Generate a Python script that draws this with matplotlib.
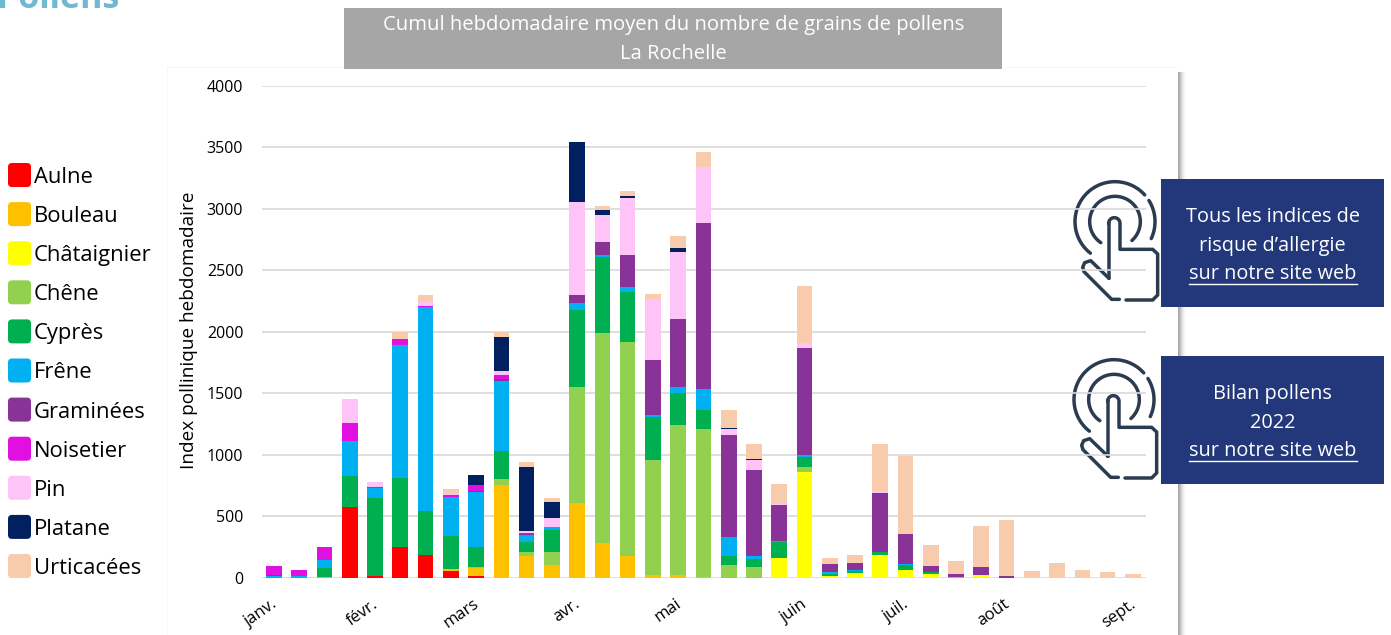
import numpy as np
import matplotlib
matplotlib.use("Agg")
import matplotlib.pyplot as plt
from matplotlib.patches import Rectangle, FancyBboxPatch
from matplotlib.transforms import ScaledTranslation

plt.rcParams['font.family'] = ['Open Sans', 'DejaVu Sans']

#%%
# weekly values per taxon, 35 weeks
aulne = [0, 0, 0, 575, 20, 250, 190, 60, 20, 3, 0, 0, 0, 0, 0, 0, 0, 0, 0, 0, 0, 0, 0, 0, 0, 0, 0, 0, 0, 0, 0, 0, 0, 0, 0]
bouleau = [0, 0, 0, 0, 0, 0, 0, 15, 65, 752, 175, 105, 610, 285, 175, 25, 25, 5, 0, 0, 0, 0, 0, 0, 0, 0, 0, 0, 0, 0, 0, 0, 0, 0, 0]
chataignier = [0, 0, 0, 0, 0, 0, 0, 0, 0, 0, 0, 0, 0, 0, 0, 0, 0, 0, 0, 0, 160, 860, 20, 40, 190, 65, 35, 0, 25, 0, 0, 0, 0, 0, 3]
chene = [0, 0, 10, 0, 0, 0, 0, 0, 5, 50, 40, 105, 945, 1705, 1745, 930, 1215, 1205, 105, 90, 0, 45, 0, 0, 0, 0, 0, 5, 0, 0, 0, 0, 0, 0, 0]
cypres = [0, 0, 70, 255, 630, 565, 355, 270, 165, 225, 75, 180, 620, 620, 405, 355, 260, 155, 70, 65, 130, 80, 10, 20, 25, 40, 10, 0, 0, 0, 0, 0, 0, 0, 0]
frene = [20, 15, 70, 285, 80, 1075, 1655, 315, 445, 570, 60, 25, 55, 15, 40, 10, 50, 170, 155, 25, 10, 10, 15, 5, 0, 10, 0, 0, 0, 0, 0, 0, 0, 0, 0]
graminees = [5, 0, 0, 0, 0, 0, 0, 0, 10, 20, 5, 0, 65, 105, 260, 450, 550, 1345, 830, 695, 295, 875, 65, 60, 475, 240, 50, 30, 65, 15, 0, 3, 0, 0, 0]
noisetier = [75, 50, 100, 145, 10, 50, 10, 15, 45, 30, 10, 0, 0, 0, 0, 0, 0, 0, 0, 0, 0, 0, 0, 0, 0, 0, 0, 0, 0, 0, 0, 0, 0, 0, 0]
pin = [0, 0, 0, 190, 40, 0, 30, 10, 0, 30, 15, 75, 760, 220, 460, 495, 550, 455, 50, 85, 10, 35, 0, 0, 15, 0, 0, 0, 0, 5, 0, 0, 0, 0, 0]
platane = [0, 0, 0, 0, 0, 0, 0, 0, 80, 280, 525, 130, 490, 35, 15, 0, 30, 0, 10, 10, 0, 0, 0, 0, 0, 0, 0, 0, 0, 0, 0, 0, 0, 0, 0]
urticacees = [0, 0, 0, 0, 0, 55, 60, 35, 0, 40, 35, 30, 0, 35, 40, 45, 100, 125, 145, 115, 155, 465, 50, 65, 380, 635, 170, 105, 335, 455, 55, 115, 65, 50, 32]

names = ['Aulne', 'Bouleau', 'Châtaignier', 'Chêne', 'Cyprès', 'Frêne', 'Graminées', 'Noisetier', 'Pin', 'Platane', 'Urticacées']
series = [aulne, bouleau, chataignier, chene, cypres, frene, graminees, noisetier, pin, platane, urticacees]
colors = ['#ff0000', '#ffc000', '#ffff00', '#92d050', '#00b050', '#00b0f0', '#893399', '#e010e0', '#ffc4f7', '#002060', '#f8cbad']

month_weeks = [0, 4, 8, 12, 16, 21, 25, 29, 34]
month_labels = ['janv.', 'févr.', 'mars', 'avr.', 'mai', 'juin', 'juil.', 'août', 'sept.']

W, H = 1391, 635
fig = plt.figure(figsize=(W / 100, H / 100), dpi=100)

#%%
# overlay in pixel coords for everything around the chart
deco = fig.add_axes([0, 0, 1, 1], zorder=0)
deco.set_xlim(0, W)
deco.set_ylim(H, 0)
deco.axis('off')

# panel shadow
for i, c in enumerate(['#a8a8a8', '#b4b4b4', '#c4c4c4', '#d4d4d4', '#e2e2e2', '#eeeeee', '#f6f6f6', '#fbfbfb']):
    deco.add_patch(Rectangle((1178 + i, 72), 1, H - 72, color=c, lw=0))
deco.add_patch(Rectangle((167, 67), 1, H - 67, color='#f7f7f7', lw=0))
deco.add_patch(Rectangle((167, 67), 1011, 1, color='#f7f7f7', lw=0))

deco.text(119, 8, 'Pollens', ha='right', va='baseline', fontsize=24.5, fontweight='bold', color='#6fb9d3')

# title box
deco.add_patch(Rectangle((344, 8), 658, 61, color='#a6a6a6', lw=0))
deco.text(673.5, 25, 'Cumul hebdomadaire moyen du nombre de grains de pollens', ha='center', va='center', fontsize=14.6, color='white')
deco.text(673.5, 54, 'La Rochelle', ha='center', va='center', fontsize=14.6, color='white')

# legend
for i, (name, c) in enumerate(zip(names, colors)):
    yc = 175 + i * 39.1
    deco.add_patch(FancyBboxPatch((12, yc - 8), 15, 16, boxstyle='round,pad=4,rounding_size=4', color=c, lw=0))
    deco.text(33.5, yc + 2.5, name, ha='left', va='center', fontsize=15.8, color='black')


#%%
def hand_icon(x0, y0):
    # outline taken from the zoomed crop, units are crop pixels / 3
    def draw(xs, ys):
        deco.plot(x0 + np.array(xs) / 3, y0 + np.array(ys) / 3, color='#2b3c50', lw=2.5,
                  solid_capstyle='round', solid_joinstyle='round', zorder=6)

    def arc(cx, cy, r, a1, a2):
        t = np.radians(np.linspace(a1, a2, 60))
        draw(cx + r * np.cos(t), cy - r * np.sin(t))

    arc(165, 155, 120, 232, 42)
    arc(165, 155, 120, 32, -25)
    arc(165, 155, 76, 236, -48)
    t = np.radians(np.linspace(180, 0, 20))
    draw(np.r_[147, 147, 163 + 17 * np.cos(t), 180, 278, 293, 293, 278, 198],
         np.r_[325, 160, 160 - 17 * np.sin(t), 238, 238, 252, 375, 390, 390])
    draw([178, 155, 72, 68, 74, 92, 147], [388, 388, 305, 292, 278, 272, 325])


hand_icon(1060, 170)
hand_icon(1059, 348)

# link boxes
boxes = [(179, ['Tous les indices de', 'risque d’allergie', 'sur notre site web']),
         (356, ['Bilan pollens', '2022', 'sur notre site web'])]
for top, lines in boxes:
    deco.add_patch(Rectangle((1161, top), 223, 128, color='#22387a', lw=0, zorder=5))
    for j, line in enumerate(lines):
        deco.text(1272.5, top + 38 + j * 28.5, line, ha='center', va='center', fontsize=14.3, color='white', zorder=7)
    deco.plot([1188.5, 1357], [top + 104.5, top + 104.5], color='white', lw=1, zorder=7)

#%%
ax = fig.add_axes([262 / W, 1 - 578 / H, (1146 - 262) / W, (578 - 85.5) / H], zorder=1)
ax.patch.set_alpha(0)

weeks = np.arange(len(aulne))
bottom = np.zeros(len(aulne))
for vals, c in zip(series, colors):
    ax.bar(weeks, vals, width=0.62, bottom=bottom, color=c, zorder=3)
    bottom += np.array(vals)

ax.set_xlim(-0.475, 34.52)
ax.set_ylim(0, 4000)
ax.set_yticks(range(0, 4001, 500))
ax.grid(axis='y', color='#d9d9d9', lw=1.2, zorder=0)
ax.set_axisbelow(True)
for s in ax.spines.values():
    s.set_visible(False)
ax.tick_params(axis='y', length=0, pad=13.5, labelsize=11.5)
ax.set_xticks(month_weeks)
ax.set_xticklabels(month_labels, rotation=35, ha='right', rotation_mode='anchor', fontsize=12)
ax.tick_params(axis='x', length=0, pad=13)
for lab in ax.get_xticklabels():
    lab.set_transform(lab.get_transform() + ScaledTranslation(-3 / 100, 0, fig.dpi_scale_trans))
ax.set_ylabel('Index pollinique hebdomadaire', fontsize=13.7)
ax.yaxis.set_label_coords((198 - 262) / (1146 - 262), (578 - 330) / (578 - 85.5))

fig.savefig('out.png', dpi=100)
